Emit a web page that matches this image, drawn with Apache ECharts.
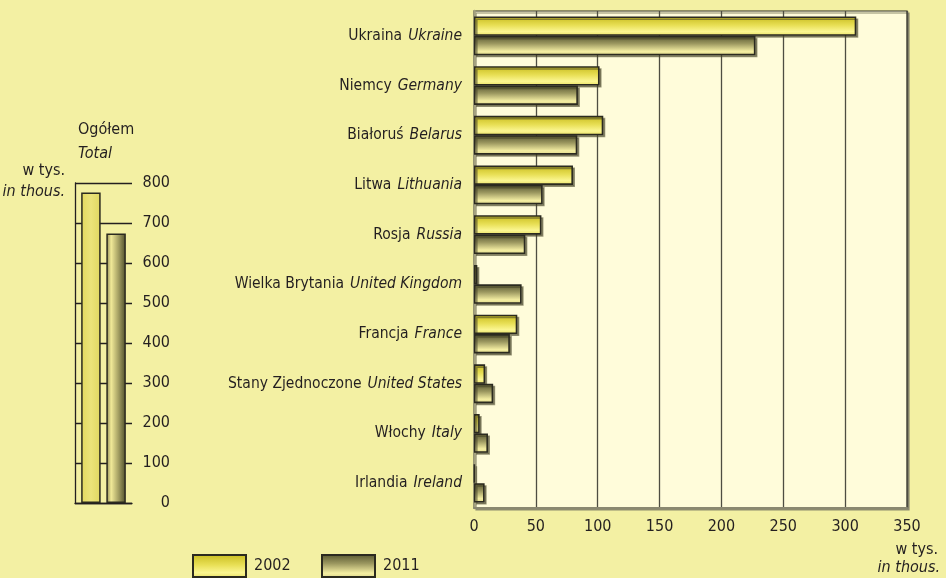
<!DOCTYPE html>
<html>
<head>
<meta charset="utf-8">
<script src="https://cdn.jsdelivr.net/npm/echarts@6/dist/echarts.min.js"></script>
<style>
html,body{margin:0;padding:0;background:#f3f0a3;}
#c{width:946px;height:578px;}
</style>
</head>
<body>
<div id="c"></div>
<script>
// ---- data ----
const categoriesPl = ['Ukraina','Niemcy','Białoruś','Litwa','Rosja','Wielka Brytania','Francja','Stany Zjednoczone','Włochy','Irlandia'];
const categoriesEn = ['Ukraine','Germany','Belarus','Lithuania','Russia','United Kingdom','France','United States','Italy','Ireland'];
const values2002 = [309, 101.5, 104.5, 80, 54.5, 2.7, 35, 9, 4.6, 0.6];
const values2011 = [227.5, 84, 83.5, 55.5, 41.5, 38.5, 29, 15.5, 11.3, 8.6];
const seriesNames = ['2002', '2011'];
const total2002 = [776];
const total2011 = [674];
const mainAxisMin = 0, mainAxisMax = 350, mainAxisStep = 50;
const totalAxisMin = 0, totalAxisMax = 800, totalAxisStep = 100;

const FONT = "'DejaVu Sans Condensed','Liberation Sans Narrow',sans-serif";
const TXT = '#231f20';
const FS = 16;      // numbers, small texts
const FSC = 15.5;   // category labels

const grad2002 = new echarts.graphic.LinearGradient(0,0,0,1,[
  {offset:0,color:'#c8bc1e'},{offset:0.45,color:'#e8df55'},{offset:0.78,color:'#fbf692'},{offset:1,color:'#e8e062'}]);
const grad2011 = new echarts.graphic.LinearGradient(0,0,0,1,[
  {offset:0,color:'#55552f'},{offset:0.4,color:'#9c9860'},{offset:0.8,color:'#f4eea2'},{offset:1,color:'#dcd68a'}]);
const gradT2002 = new echarts.graphic.LinearGradient(0,0,1,0,[
  {offset:0,color:'#e2d85e'},{offset:0.5,color:'#ebe37a'},{offset:1,color:'#e0d760'}]);
const gradT2011 = new echarts.graphic.LinearGradient(0,0,1,0,[
  {offset:0,color:'#8a8650'},{offset:0.25,color:'#f1ea98'},{offset:0.6,color:'#a9a466'},{offset:1,color:'#4e4e2a'}]);

const barStyle = (c)=>({color:c, borderColor:'#2b2a1f', borderWidth:1.6,
  shadowColor:'rgba(70,68,40,0.55)', shadowOffsetX:2, shadowOffsetY:2, shadowBlur:0});

const legendCommon = {top:549, itemWidth:53, itemHeight:22, icon:'rect', selectedMode:false,
  textStyle:{fontFamily:FONT,fontSize:FS,color:TXT,padding:[0,0,0,3]}};

const chart = echarts.init(document.getElementById('c'));
chart.setOption({
  backgroundColor:'#f3f0a3',
  animation:false,
  textStyle:{fontFamily:FONT,color:TXT},
  legend:[
    Object.assign({data:[seriesNames[0]], left:187}, legendCommon),
    Object.assign({data:[seriesNames[1]], left:316}, legendCommon)
  ],
  grid:[
    {left:474, right:39, top:11, bottom:70, show:true, backgroundColor:'#fffcda',
     borderColor:'#2a2a22', borderWidth:1.2,
     shadowColor:'#8d8b6f', shadowOffsetX:2, shadowOffsetY:2, shadowBlur:0},
    {left:75, width:57, top:183, bottom:75}
  ],
  xAxis:[
    {type:'value', gridIndex:0, min:mainAxisMin, max:mainAxisMax, interval:mainAxisStep,
     axisLine:{show:true, lineStyle:{color:'#8a8870', width:2}}, axisTick:{show:false},
     splitLine:{show:true, lineStyle:{color:'#4e4d42', width:1.3}},
     axisLabel:{fontFamily:FONT, fontSize:FS, color:TXT, margin:11}},
    {type:'category', gridIndex:1, data:['Ogółem'], axisLine:{show:true, lineStyle:{color:'#231f20', width:1.3}},
     axisTick:{show:false}, axisLabel:{show:false}}
  ],
  yAxis:[
    {type:'category', gridIndex:0, data:categoriesPl, inverse:true,
     axisLine:{show:true, lineStyle:{color:'#a3a07e', width:2.5}}, axisTick:{show:false},
     axisLabel:{margin:12, formatter:(v,i)=>'{pl|'+v+'}{sp| }{en|'+categoriesEn[i]+'}',
       rich:{pl:{fontFamily:FONT,fontSize:FSC,color:TXT}, sp:{fontFamily:FONT,fontSize:FSC,width:6},
             en:{fontFamily:FONT,fontSize:FSC,fontStyle:'italic',color:TXT}}}},
    {type:'value', gridIndex:1, position:'right', min:totalAxisMin, max:totalAxisMax, interval:totalAxisStep,
     axisLine:{show:false}, axisTick:{show:false},
     splitLine:{show:true, lineStyle:{color:'#231f20', width:1.3}},
     axisLabel:{fontFamily:FONT, fontSize:FS, color:TXT, margin:38, align:'right'}},
    {type:'value', gridIndex:1, position:'left', min:totalAxisMin, max:totalAxisMax, interval:totalAxisStep,
     axisLine:{show:true, lineStyle:{color:'#231f20', width:1.3}}, axisTick:{show:false},
     splitLine:{show:false}, axisLabel:{show:false}}
  ],
  series:[
    {name:seriesNames[0], type:'bar', xAxisIndex:0, yAxisIndex:0, data:values2002,
     barGap:'0%', barCategoryGap:'22%', itemStyle:barStyle(grad2002)},
    {name:seriesNames[1], type:'bar', xAxisIndex:0, yAxisIndex:0, data:values2011,
     barGap:'0%', barCategoryGap:'22%', itemStyle:barStyle(grad2011)},
    {name:'Ogółem '+seriesNames[0], type:'bar', xAxisIndex:1, yAxisIndex:1, data:total2002,
     barWidth:19.5, barGap:'29%', itemStyle:{color:gradT2002, borderColor:'#2b2a1f', borderWidth:1.5}},
    {name:'Ogółem '+seriesNames[1], type:'bar', xAxisIndex:1, yAxisIndex:1, data:total2011,
     barWidth:19.5, barGap:'29%', itemStyle:{color:gradT2011, borderColor:'#2b2a1f', borderWidth:1.5}}
  ],
  graphic:[
    {type:'text', left:78, top:122, style:{text:'Ogółem', font:FS+'px '+FONT, fill:TXT}},
    {type:'text', left:78, top:146, style:{text:'Total', font:'italic '+FS+'px '+FONT, fill:TXT}},
    {type:'text', right:946-65, top:163, style:{text:'w tys.', font:FS+'px '+FONT, fill:TXT}},
    {type:'text', right:946-65, top:184, style:{text:'in thous.', font:'italic '+FS+'px '+FONT, fill:TXT}},
    {type:'text', right:8, top:542, style:{text:'w tys.', font:FS+'px '+FONT, fill:TXT}},
    {type:'text', right:6, top:560, style:{text:'in thous.', font:'italic '+FS+'px '+FONT, fill:TXT}}
  ]
});
</script>
</body>
</html>
